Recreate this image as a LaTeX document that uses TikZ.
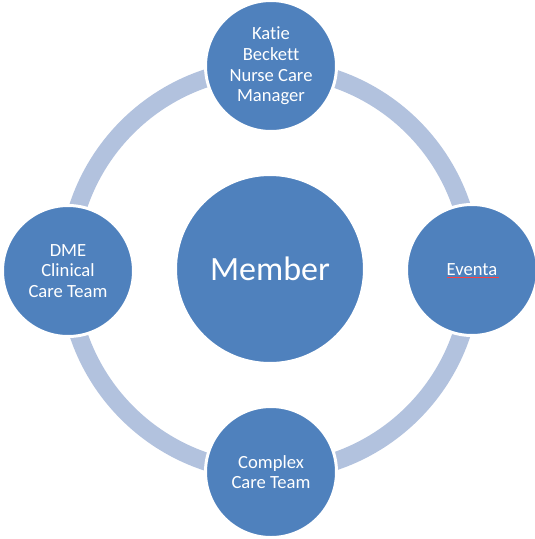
\documentclass[tikz,border=0pt]{standalone}
\usepackage{fontspec}
\setmainfont[Ligatures=NoCommon]{Carlito}
\definecolor{circblue}{HTML}{4F81BD}
\definecolor{ringblue}{HTML}{B2C2DE}
\begin{document}
\begin{tikzpicture}[x=1pt,y=-1pt,
  outer/.style={circle,fill=circblue,draw=white,line width=3pt,minimum size=131pt,
    inner sep=0pt,align=center,text=white,font=\fontsize{18.6}{20.6}\selectfont},
  hub/.style={outer,minimum size=189pt,font=\fontsize{34}{40}\selectfont},
  ring/.style={draw=ringblue,line width=18pt}]
\useasboundingbox (0,0) rectangle (535,539);
\coordinate (c) at (270,270);
\draw[ring] (c) circle (202);
\node[hub] (member) at (270,269) {Member};
\node[outer] (katie) at (271,66) {Katie\\Beckett\\Nurse Care\\Manager};
\node[outer] (eventa) at (472,270) {Eventa};
\node[outer] (complex) at (271,472) {Complex\\Care Team};
\node[outer] (dme) at (68,271) {DME\\Clinical\\Care Team};
\draw[red!75!white,line width=0.6pt] ([xshift=-25pt,yshift=-7pt]eventa.center) -- ([xshift=27pt,yshift=-7pt]eventa.center);
\end{tikzpicture}
\end{document}
